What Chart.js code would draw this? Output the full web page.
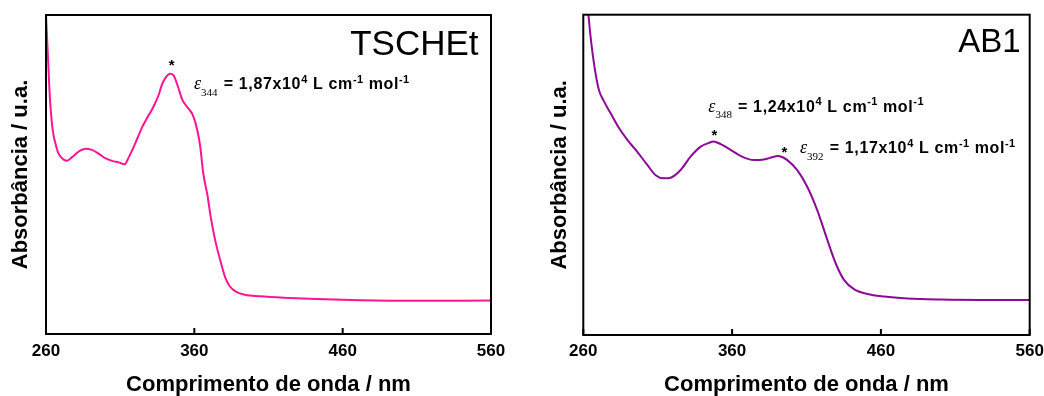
<!DOCTYPE html>
<html><head><meta charset="utf-8">
<script src="https://cdn.jsdelivr.net/npm/chart.js@4.4.1/dist/chart.umd.min.js"></script>
<style>
html,body{margin:0;padding:0;background:#fff;overflow:hidden;width:1044px;height:396px;}
.box{position:absolute;top:0;height:396px;}
canvas{display:block;}
</style></head><body>
<div class="box" style="left:0;width:520px"><canvas id="c1" width="520" height="396"></canvas></div>
<div class="box" style="left:524px;width:540px"><canvas id="c2" width="540" height="396"></canvas></div>
<script>
// ---- data ----
const tickLabels = [260, 360, 460, 560];
const xTitle = 'Comprimento de onda / nm';
const yTitle = 'Absorbância / u.a.';

const tschetWavelength = [260, 261.6, 262.7, 264, 265, 266.5, 268.3, 271, 274, 277, 280, 283, 287, 291, 296, 300, 305, 309, 313, 316, 319, 322, 325, 328, 331, 333, 336, 338, 341, 343.6, 346, 349, 352, 356, 359, 362, 364, 366, 369, 371, 374, 378, 381, 384, 388, 394, 404, 424, 460, 500, 560];
const tschetAbs = [100, 84, 73.5, 66, 62.5, 59.5, 56.7, 55, 54.3, 55.2, 56.4, 57.5, 58.1, 57.7, 56.4, 55.1, 54.2, 53.8, 53.2, 55.6, 58.5, 61.8, 65, 67.6, 70, 71.8, 75, 78, 80.6, 81.6, 81.1, 77.5, 73.3, 70.7, 68.6, 63.9, 58.7, 50.4, 43.1, 36.8, 29.5, 22.2, 17.5, 14.9, 13.3, 12.3, 11.8, 11.3, 10.7, 10.4, 10.5];

const ab1Wavelength = [260, 261.5, 263.4, 264.9, 267.5, 270.5, 273.4, 278.4, 284, 289.6, 296.3, 303, 308.6, 314.2, 318.7, 325.4, 332.1, 338.9, 344.5, 347.4, 352.3, 359, 365.7, 374.7, 381.4, 387, 390.4, 394, 397.1, 403.8, 410.5, 417.2, 424, 429.6, 435.2, 441.9, 450.9, 462, 477.7, 500, 560];
const ab1Abs = [112, 106, 100, 93.1, 83.8, 76.5, 73.4, 69.2, 64.6, 60.9, 57.2, 53.1, 49.9, 48.9, 49.1, 51.5, 55.7, 58.8, 60.0, 60.4, 59.6, 57.8, 55.9, 54.6, 54.8, 55.5, 55.9, 55.5, 54.6, 51.5, 46.3, 39.0, 29.7, 22.4, 17.2, 14.3, 12.8, 12.0, 11.4, 11.1, 10.9];

// ---- drawing helpers ----
const SANS = '"Liberation Sans", Arial, sans-serif';
const SERIF = '"Liberation Serif", "Times New Roman", serif';

function drawRich(ctx, x, y, parts) {
  ctx.textAlign = 'left';
  ctx.textBaseline = 'alphabetic';
  parts.forEach(p => {
    ctx.font = p.f;
    const ls = p.ls || 0;
    for (const ch of p.t) {
      ctx.fillText(ch, x, y + (p.dy || 0));
      x += ctx.measureText(ch).width + ls;
    }
    x += p.gap || 0;
  });
}

function epsLine(sub, mant, exp) {
  const B = 'bold 16px ' + SANS, S = 'bold 11px ' + SANS, LS = 0.65;
  return [
    {t: 'ε', f: 'italic 18px ' + SERIF},
    {t: sub, f: '11px ' + SERIF, dy: 6.4, gap: 1},
    {t: ' = ' + mant + 'x10', f: B, ls: LS},
    {t: exp, f: S, dy: -6.5, ls: LS},
    {t: ' L cm', f: B, ls: LS},
    {t: '-1', f: S, dy: -6.5, ls: 0.4},
    {t: ' mol', f: B, ls: LS},
    {t: '-1', f: S, dy: -6.5, ls: 0.4}
  ];
}

const framePlugin = {
  id: 'frame',
  afterDatasetsDraw(chart) {
    const {ctx, chartArea: a, scales: {x}} = chart;
    ctx.save();
    ctx.strokeStyle = '#000';
    ctx.lineWidth = 2;
    ctx.strokeRect(a.left, a.top, a.right - a.left, a.bottom - a.top);
    ctx.beginPath();
    x.ticks.forEach(t => {
      const px = x.getPixelForValue(t.value);
      ctx.moveTo(px, a.bottom);
      ctx.lineTo(px, a.bottom - 6);
    });
    ctx.stroke();
    ctx.restore();
  }
};

function notesPlugin(notes) {
  return {
    id: 'notes',
    afterDraw(chart) {
      const ctx = chart.ctx;
      ctx.save();
      ctx.fillStyle = '#000';
      ctx.font = notes.label.size + 'px ' + SANS;
      ctx.textAlign = 'right';
      ctx.textBaseline = 'alphabetic';
      ctx.fillText(notes.label.text, notes.label.x, notes.label.y);
      ctx.font = 'bold 15px ' + SANS;
      ctx.textAlign = 'center';
      notes.stars.forEach(s => ctx.fillText('*', s[0], s[1] + 8.5));
      notes.eps.forEach(e => drawRich(ctx, e.x, e.y, epsLine(e.sub, e.mant, e.exp)));
      ctx.restore();
    }
  };
}

function build(id, xs, ys, color, g, notes) {
  const pts = xs.map((x, i) => ({x: x, y: ys[i]}));
  return new Chart(document.getElementById(id), {
    type: 'line',
    data: {datasets: [{data: pts, borderColor: color, borderWidth: 2, pointRadius: 0,
      cubicInterpolationMode: 'monotone', fill: false}]},
    options: {
      responsive: false, animation: false, events: [],
      layout: {padding: {left: 0, top: g.top, right: g.right, bottom: 0}},
      plugins: {legend: {display: false}, tooltip: {enabled: false}},
      scales: {
        x: {
          type: 'linear', min: 260, max: 560,
          afterBuildTicks: s => { s.ticks = tickLabels.map(v => ({value: v})); },
          grid: {display: false, drawTicks: false}, border: {display: false},
          ticks: {padding: g.tickPad, color: '#000', maxRotation: 0, autoSkip: false,
            font: {family: SANS, weight: 'bold', size: 17}},
          title: {display: true, text: xTitle, color: '#000',
            font: {family: SANS, weight: 'bold', size: 22, lineHeight: 1},
            padding: {top: 0, bottom: g.xTitlePad}},
          afterFit: s => { s.height = g.xAxisH; }
        },
        y: {
          min: 0, max: 100,
          ticks: {display: false}, grid: {display: false, drawTicks: false}, border: {display: false},
          title: {display: true, text: yTitle, color: '#000',
            font: {family: SANS, weight: 'bold', size: 22, lineHeight: 1},
            padding: {top: g.yTitlePad, bottom: 0}},
          afterFit: s => { s.width = g.yAxisW; }
        }
      }
    },
    plugins: [framePlugin, notesPlugin(notes)]
  });
}

build('c1', tschetWavelength, tschetAbs, '#FF1493',
  {top: 15, right: 29, yAxisW: 46, xAxisH: 62, tickPad: 7, xTitlePad: 0.5, yTitlePad: 9.8},
  {label: {text: 'TSCHEt', size: 35, x: 478.5, y: 55},
   stars: [[171.7, 61]],
   eps: [{x: 194, y: 89.3, sub: '344', mant: '1,87', exp: '4'}]});

build('c2', ab1Wavelength, ab1Abs, '#8B0A96',
  {top: 14.7, right: 34.3, yAxisW: 59.3, xAxisH: 61, tickPad: 6.5, xTitlePad: 0.3, yTitlePad: 24.8},
  {label: {text: 'AB1', size: 33, x: 496.7, y: 51.7},
   stars: [[190.5, 131.7], [260.3, 148.3]],
   eps: [{x: 184.3, y: 111.7, sub: '348', mant: '1,24', exp: '4'},
         {x: 276, y: 153.3, sub: '392', mant: '1,17', exp: '4'}]});
</script>
</body></html>
